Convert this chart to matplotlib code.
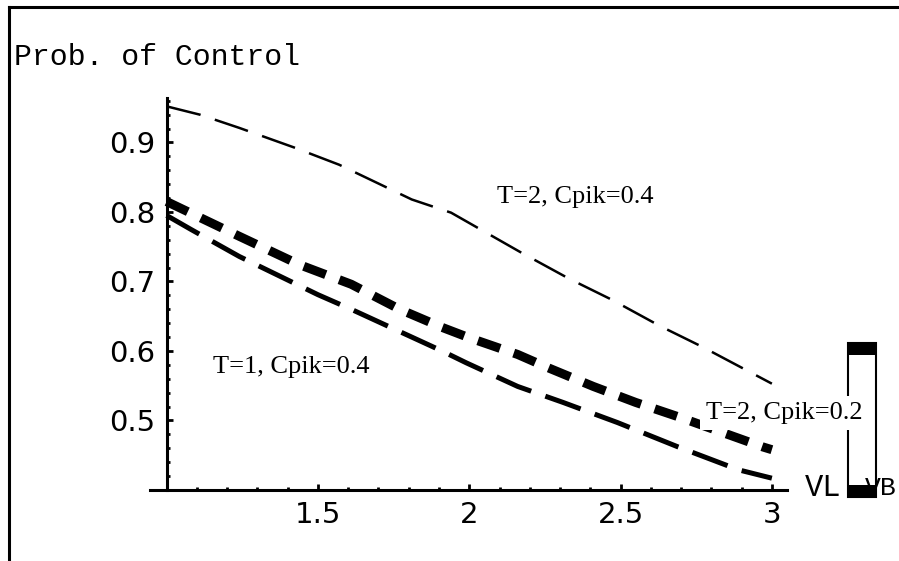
import numpy as np
import matplotlib.pyplot as plt
from matplotlib.patches import Rectangle
from matplotlib.lines import Line2D
from matplotlib.ticker import MultipleLocator

# --- data (x = VL/VB, y = prob. of control) ---
x_t2_c04 = [1.0, 1.11, 1.24, 1.42, 1.57, 1.81, 1.94, 2.17, 2.33, 2.47, 2.63, 2.77, 3.0]
y_t2_c04 = [0.952, 0.940, 0.921, 0.893, 0.868, 0.818, 0.799, 0.742, 0.704, 0.674, 0.636, 0.606, 0.553]

x_t2_c02 = [1.0, 1.24, 1.44, 1.61, 1.77, 1.91, 2.0, 2.16, 2.26, 2.41, 2.55, 2.70, 2.97, 3.0]
y_t2_c02 = [0.815, 0.765, 0.724, 0.696, 0.660, 0.634, 0.619, 0.595, 0.576, 0.549, 0.526, 0.504, 0.462, 0.458]

x_t1_c04 = [1.0, 1.08, 1.24, 1.5, 1.61, 1.77, 1.91, 1.99, 2.16, 2.31, 2.49, 2.69, 2.89, 3.0]
y_t1_c04 = [0.795, 0.775, 0.736, 0.681, 0.660, 0.628, 0.600, 0.583, 0.549, 0.526, 0.497, 0.462, 0.429, 0.417]

x_ticks = [1.5, 2, 2.5, 3]
x_tick_labels = ["1.5", "2", "2.5", "3"]
y_ticks = [0.5, 0.6, 0.7, 0.8, 0.9]
y_tick_labels = ["0.5", "0.6", "0.7", "0.8", "0.9"]

W, H = 899, 561
fig = plt.figure(figsize=(W / 100, H / 100), dpi=100)


def fx(px):
    return px / W


def fy(py):
    return 1 - py / H


ax = fig.add_axes([fx(150), fy(490), fx(787) - fx(150), fy(98) - fy(490)])
ax.set_xlim(0.945, 3.05)
ax.set_ylim(0.4, 0.964)

for s in ["top", "right"]:
    ax.spines[s].set_visible(False)
ax.spines["left"].set_position(("data", 1.0))
ax.spines["left"].set_linewidth(2.2)
ax.spines["bottom"].set_linewidth(2.2)

ax.set_xticks(x_ticks)
ax.set_xticklabels(x_tick_labels)
ax.set_yticks(y_ticks)
ax.set_yticklabels(y_tick_labels)
ax.xaxis.set_minor_locator(MultipleLocator(0.1))
ax.yaxis.set_minor_locator(MultipleLocator(0.02))
ax.tick_params(which="major", direction="in", length=4.5, width=2, labelsize=21, pad=8)
ax.tick_params(which="minor", direction="in", length=2.5, width=2)
for lab in ax.get_xticklabels() + ax.get_yticklabels():
    lab.set_fontfamily("DejaVu Sans")

# curves: linestyle tuples (offset, (on, off)) in points
ax.plot(x_t2_c04, y_t2_c04, color="black", lw=1.8, linestyle=(0, (14, 6)), dash_capstyle="butt")
ax.plot(x_t2_c02, y_t2_c02, color="black", lw=6.5, linestyle=(0, (2.6, 1.6)), dash_capstyle="butt")
ax.plot(x_t1_c04, y_t1_c04, color="black", lw=3.6, linestyle=(0, (7.5, 3.0)), dash_capstyle="butt")

# garbled fraction glyph of the axis label (box drawn in figure pixels)
fig.add_artist(Rectangle((fx(848), fy(497)), fx(28), fy(343) - fy(497), fill=False,
                         lw=1.5, ec="black", transform=fig.transFigure))
fig.add_artist(Rectangle((fx(848), fy(355)), fx(28), fy(343) - fy(355),
                         fc="black", ec="black", lw=0, transform=fig.transFigure))
fig.add_artist(Rectangle((fx(848), fy(497)), fx(28), fy(485) - fy(497),
                         fc="black", ec="black", lw=0, transform=fig.transFigure))

# curve labels
serif = "Liberation Serif"
fig.text(fx(497), fy(197), "T=2, Cpik=0.4", family=serif, fontsize=19, va="center", ha="left")
fig.text(fx(213), fy(367), "T=1, Cpik=0.4", family=serif, fontsize=19, va="center", ha="left")
fig.text(fx(706), fy(413), "T=2, Cpik=0.2", family=serif, fontsize=19, va="center", ha="left",
         bbox=dict(fc="white", ec="none", pad=4))

# axis labels
mono = "Liberation Mono"
fig.text(fx(14), fy(57), "Prob. of Control", family=mono, fontsize=21.5, va="center", ha="left")
fig.text(fx(805), fy(488), "VL", family=mono, fontsize=22, va="center", ha="left")
fig.text(fx(865), fy(488), "VB", family=mono, fontsize=19, va="center", ha="left")

# outer frame (left and top edges)
fig.add_artist(Line2D([fx(9), fx(9)], [fy(561), fy(7)], color="black", lw=2.2, transform=fig.transFigure))
fig.add_artist(Line2D([fx(9), fx(899)], [fy(7), fy(7)], color="black", lw=2.2, transform=fig.transFigure))

fig.savefig("out.png", dpi=100)
